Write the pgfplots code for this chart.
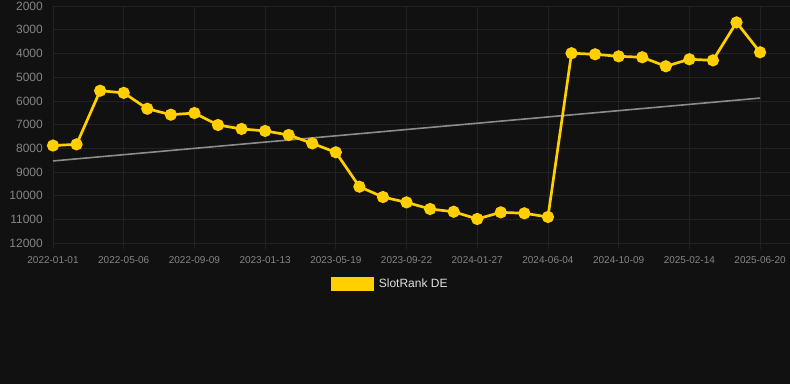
\documentclass[border=0pt]{standalone}
\usepackage{pgfplots}
\pgfplotsset{compat=1.18}
\usepackage{fontspec}
\setmainfont{Liberation Sans}
\definecolor{bg}{HTML}{111111}
\definecolor{gridc}{HTML}{222222}
\definecolor{tickc}{HTML}{858585}
\definecolor{ylw}{HTML}{FFCF00}
\definecolor{trend}{HTML}{8C8C8C}
\definecolor{legtext}{HTML}{E0E0E0}
\begin{document}
\begin{tikzpicture}
\path[use as bounding box, fill=bg] (0,0) rectangle (790pt,384pt);
\begin{axis}[
  at={(53pt,140.7pt)}, anchor=south west,
  scale only axis, width=737pt, height=237.3pt,
  xmin=0, xmax=31.27,
  ymin=2000, ymax=12000, y dir=reverse,
  clip=false,
  axis line style={draw=none},
  grid=major, major grid style={draw=gridc, line width=0.8pt},
  xtick={0,3,...,30},
  xticklabels={2022-01-01,2022-05-06,2022-09-09,2023-01-13,2023-05-19,2023-09-22,2024-01-27,2024-06-04,2024-10-09,2025-02-14,2025-06-20},
  ytick={2000,3000,...,12000},
  scaled y ticks=false,
  yticklabel={\pgfmathprintnumber[fixed,precision=0,1000 sep={}]{\tick}},
  /pgf/number format/assume math mode=true,
  x tick style={draw=gridc, line width=0.8pt},
  xtick align=outside, xtick pos=lower, major tick length=6pt,
  y tick style={draw=none},
  ytick pos=left,
  xticklabel style={font=\fontsize{10}{12}\selectfont, text=tickc, inner sep=0pt, anchor=north, yshift=-7.5pt},
  yticklabel style={font=\fontsize{12}{14}\selectfont, text=tickc, inner sep=0pt, anchor=east, xshift=-10pt},
  legend style={at={(0.3772,-0.1728)}, anchor=west, draw=none, fill=none, inner sep=0pt,
    text=legtext, font=\fontsize{12}{14}\selectfont,
    nodes={inner xsep=5pt}},
]
\addplot[trend, line width=1.6pt, forget plot] coordinates {(0,8530) (30,5880)};
\addplot[ylw, line width=2.7pt, mark=*, mark size=4.7pt, mark options={solid, fill=ylw, draw=none},
  legend image code/.code={\fill[ylw] (0pt,-5.5pt) rectangle (40pt,5.5pt);}]
coordinates {
(0,7880) (1,7830) (2,5570) (3,5660) (4,6330) (5,6580) (6,6510) (7,7015)
(8,7180) (9,7265) (10,7435) (11,7790) (12,8165) (13,9615) (14,10050)
(15,10275) (16,10555) (17,10670) (18,10975) (19,10695) (20,10735)
(21,10890) (22,3990) (23,4035) (24,4120) (25,4160) (26,4540) (27,4245)
(28,4290) (29,2690) (30,3950)
};
\addlegendentry{SlotRank DE}
\end{axis}
\end{tikzpicture}
\end{document}
